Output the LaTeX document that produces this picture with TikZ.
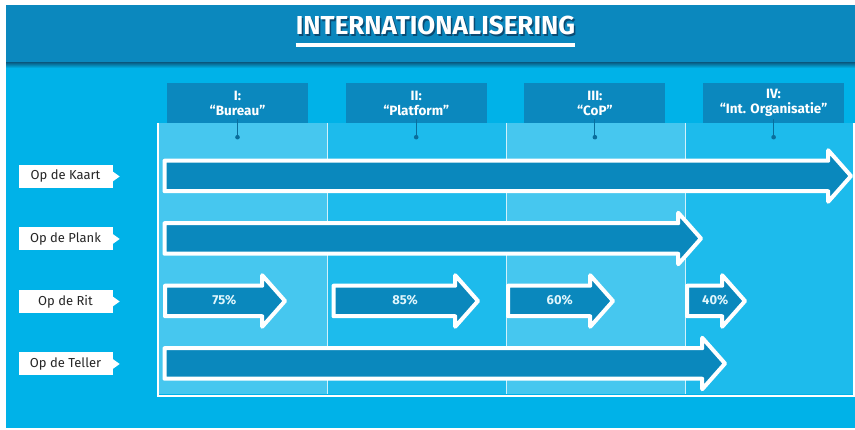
\documentclass[tikz,border=0pt]{standalone}
\usepackage{fontspec}
\setmainfont{Fira Sans}
\usetikzlibrary{positioning,shapes.arrows}
\definecolor{headblue}{HTML}{0B88BE}
\definecolor{skyblue}{HTML}{00B2E8}
\definecolor{lightcol}{HTML}{46C7EF}
\definecolor{midcol}{HTML}{1DBBEC}
\definecolor{barblue}{HTML}{0A88BD}
\definecolor{stemblue}{HTML}{0A6E9C}
\definecolor{shadowblue}{HTML}{0A4A72}
\begin{document}
\begin{tikzpicture}[x=1pt, y=-1pt, node distance=178.7pt, >=stealth]
    \tikzstyle{phase}=[rectangle,fill=headblue,minimum width=141pt,minimum height=40pt,inner sep=0pt,text=white,align=center,font=\bfseries\fontsize{13.5}{15}\selectfont]
    \tikzstyle{tag}=[rectangle,fill=white,minimum width=94pt,minimum height=23pt,inner sep=0pt,text=black!85,font=\fontsize{13}{15}\selectfont]
    \tikzstyle{bar}=[single arrow,anchor=tail,draw=white,line width=4pt,line join=round,fill=barblue,single arrow head extend=10.5pt,single arrow tip angle=97,inner xsep=0pt,inner ysep=9.25pt,text height=8pt,text depth=0pt,text=white!88!skyblue,font=\bfseries\fontsize{13}{15}\selectfont]
    \tikzstyle{pct}=[bar,execute at begin node={\hspace*{12pt}}]
    \useasboundingbox (0,0) rectangle (855,430);
    % background and header band
    \fill[skyblue] (6,5) rectangle (855,428);
    \fill[headblue] (6,5) rectangle (855,63);
    \shade[top color=headblue!75!black, bottom color=skyblue] (6,63) rectangle (855,68);
    \node[font=\bfseries\fontsize{26}{28}\selectfont,text=shadowblue,inner sep=0pt,text depth=0pt,anchor=base] (titleshadow) at (437,36.5) {INTERNATIONALISERING};
    \node[font=\bfseries\fontsize{26}{28}\selectfont,text=white,inner sep=0pt,text depth=0pt,anchor=base] (title) at (435.5,35) {INTERNATIONALISERING};
    \draw[white,line width=3.5pt] ([yshift=-10pt]title.south west) -- ([yshift=-10pt]title.south east);
    % columns
    \foreach \xa/\xb/\col in {159/327/lightcol, 327/506/midcol, 506/685/lightcol, 685/853/midcol}
        \fill[\col] (\xa,123) rectangle (\xb,394);
    \foreach \x in {327,506,685}
        \draw[white!75!lightcol,line width=0.8pt] (\x,123) -- (\x,394);
    \draw[white,line width=2.5pt] (158,123) -- (158,396) -- (854,396) -- (854,123);
    % phases
    \node[phase] (bureau) at (237.5,103) {I:\\“Bureau”};
    \node[phase,right of=bureau] (platform) {II:\\“Platform”};
    \node[phase,right of=platform] (cop) {III:\\“CoP”};
    \node[phase,right of=cop] (intorg) {IV:\\“Int. Organisatie”};
    \foreach \n in {bureau,platform,cop,intorg}{
        \draw[stemblue,line width=0.9pt] ([yshift=4pt]\n.south) -- ++(0,-18pt) coordinate (\n dot);
        \fill[stemblue] (\n dot) circle (2.3pt);
    }
    % row labels
    \node[tag] (kaart) at (65.5,176.5) {Op de Kaart};
    \node[tag,below of=kaart,node distance=62.5pt] (plank) {Op de Plank};
    \node[tag,below of=plank,node distance=62.5pt] (rit) {Op de Rit};
    \node[tag,below of=rit,node distance=62.5pt] (teller) {Op de Teller};
    \foreach \n in {kaart,plank,rit,teller}
        \fill[white] ([yshift=5pt]\n.east) -- ++(7pt,-5pt) -- ([yshift=-5pt]\n.east) -- cycle;
    % bars
    \node[bar,minimum height=686.5pt] (kaartbar) at (162.5,176) {};
    \node[bar,minimum height=536.5pt] (plankbar) at (162.5,238.5) {};
    \node[pct,minimum height=120pt] (rit75) at (163,301) {75\%};
    \node[pct,minimum height=144.5pt] (rit85) at (331.5,301) {85\%};
    \node[pct,minimum height=105pt] (rit60) at (506,301) {60\%};
    \node[pct,minimum height=58pt] (rit40) at (685,301) {40\%};
    \node[bar,minimum height=560.5pt] (tellerbar) at (162.5,363.5) {};
\end{tikzpicture}
\end{document}
